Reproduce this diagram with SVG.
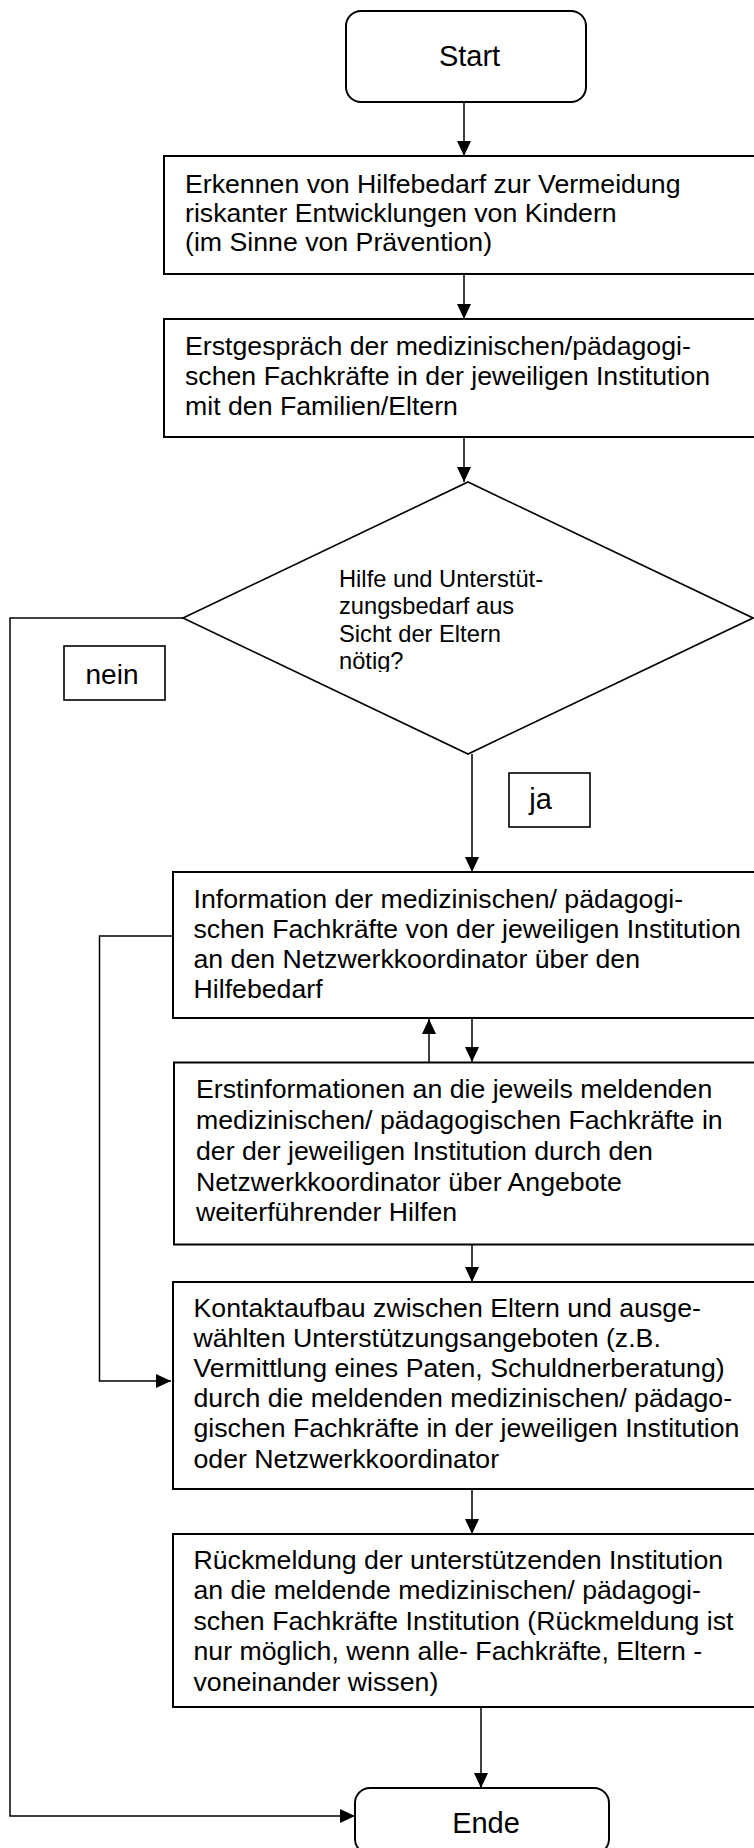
<svg xmlns="http://www.w3.org/2000/svg" width="754" height="1848" viewBox="0 0 754 1848">
<style>
.box{fill:#fff;stroke:#000;stroke-width:2}
.lbl{fill:#fff;stroke:#000;stroke-width:1.6}
.t{font-family:"Liberation Sans",Arial,sans-serif;font-size:26.7px;fill:#000}
.dt{font-family:"Liberation Sans",Arial,sans-serif;font-size:23.7px;fill:#000}
.big{font-family:"Liberation Sans",Arial,sans-serif;font-size:29px;fill:#000}
.c{fill:none;stroke:#000;stroke-width:1.5}
</style>
<defs>
<marker id="ah" markerUnits="userSpaceOnUse" markerWidth="16" markerHeight="15" refX="15" refY="7" orient="auto">
<path d="M0,0 L15,7 L0,14 z" fill="#000"/>
</marker>
<clipPath id="dclip"><rect x="300" y="560" width="300" height="112"/></clipPath>
</defs>

<g id="connectors">
<line class="c" x1="464" y1="102" x2="464" y2="156" marker-end="url(#ah)"/>
<line class="c" x1="464" y1="274" x2="464" y2="319" marker-end="url(#ah)"/>
<line class="c" x1="464" y1="437" x2="464" y2="482" marker-end="url(#ah)"/>
<polyline class="c" points="183,618 10,618 10,1816 355,1816" marker-end="url(#ah)"/>
<line class="c" x1="472" y1="754" x2="472" y2="872" marker-end="url(#ah)"/>
<line class="c" x1="472" y1="1018" x2="472" y2="1062" marker-end="url(#ah)"/>
<line class="c" x1="429" y1="1062" x2="429" y2="1019" marker-end="url(#ah)"/>
<polyline class="c" points="173,936 99.5,936 99.5,1381 171,1381" marker-end="url(#ah)"/>
<line class="c" x1="472" y1="1244" x2="472" y2="1282" marker-end="url(#ah)"/>
<line class="c" x1="472" y1="1489" x2="472" y2="1534" marker-end="url(#ah)"/>
<line class="c" x1="481" y1="1707" x2="481" y2="1788" marker-end="url(#ah)"/>
</g>

<g id="start">
<rect class="box" x="346" y="11" width="240" height="91" rx="15"/>
<text class="big" x="469.5" y="66" text-anchor="middle">Start</text>
</g>

<g id="erkennen">
<rect class="box" x="164" y="156" width="600" height="118"/>
<text class="t" x="185" y="193">Erkennen von Hilfebedarf zur Vermeidung</text>
<text class="t" x="185" y="222">riskanter Entwicklungen von Kindern</text>
<text class="t" x="185" y="251">(im Sinne von Prävention)</text>
</g>

<g id="erstgespraech">
<rect class="box" x="164" y="319" width="600" height="118"/>
<text class="t" x="185" y="355">Erstgespräch der medizinischen/pädagogi-</text>
<text class="t" x="185" y="385">schen Fachkräfte in der jeweiligen Institution</text>
<text class="t" x="185" y="415">mit den Familien/Eltern</text>
</g>

<g id="decision">
<polygon points="468,482 753,618 468,754 183,618" fill="#fff" stroke="#000" stroke-width="1.6"/>
<g clip-path="url(#dclip)">
<text class="dt" x="339" y="587">Hilfe und Unterstüt-</text>
<text class="dt" x="339" y="614">zungsbedarf aus</text>
<text class="dt" x="339" y="642">Sicht der Eltern</text>
<text class="dt" x="339" y="669">nötig?</text>
</g>
</g>

<g id="nein">
<rect class="lbl" x="64" y="646" width="101" height="54"/>
<text class="big" x="112" y="684" text-anchor="middle" style="font-size:28px">nein</text>
</g>

<g id="ja">
<rect class="lbl" x="509" y="773" width="81" height="54"/>
<text class="big" x="540.5" y="809" text-anchor="middle">ja</text>
</g>

<g id="information">
<rect class="box" x="173" y="872" width="600" height="146"/>
<text class="t" x="193.5" y="908">Information der medizinischen/ pädagogi-</text>
<text class="t" x="193.5" y="938">schen Fachkräfte von der jeweiligen Institution</text>
<text class="t" x="193.5" y="968">an den Netzwerkkoordinator über den</text>
<text class="t" x="193.5" y="998">Hilfebedarf</text>
</g>

<g id="erstinformationen">
<rect class="box" x="174" y="1062.5" width="600" height="182"/>
<text class="t" x="196" y="1098">Erstinformationen an die jeweils meldenden</text>
<text class="t" x="196" y="1129">medizinischen/ pädagogischen Fachkräfte in</text>
<text class="t" x="196" y="1160">der der jeweiligen Institution durch den</text>
<text class="t" x="196" y="1191">Netzwerkkoordinator über Angebote</text>
<text class="t" x="196" y="1221">weiterführender Hilfen</text>
</g>

<g id="kontaktaufbau">
<rect class="box" x="173" y="1282" width="600" height="207"/>
<text class="t" x="193.5" y="1317">Kontaktaufbau zwischen Eltern und ausge-</text>
<text class="t" x="193.5" y="1347">wählten Unterstützungsangeboten (z.B.</text>
<text class="t" x="193.5" y="1377">Vermittlung eines Paten, Schuldnerberatung)</text>
<text class="t" x="193.5" y="1407">durch die meldenden medizinischen/ pädago-</text>
<text class="t" x="193.5" y="1437">gischen Fachkräfte in der jeweiligen Institution</text>
<text class="t" x="193.5" y="1468">oder Netzwerkkoordinator</text>
</g>

<g id="rueckmeldung">
<rect class="box" x="173" y="1534" width="600" height="173"/>
<text class="t" x="193.5" y="1569">Rückmeldung der unterstützenden Institution</text>
<text class="t" x="193.5" y="1599">an die meldende medizinischen/ pädagogi-</text>
<text class="t" x="193.5" y="1630">schen Fachkräfte Institution (Rückmeldung ist</text>
<text class="t" x="193.5" y="1660">nur möglich, wenn alle- Fachkräfte, Eltern -</text>
<text class="t" x="193.5" y="1691">voneinander wissen)</text>
</g>

<g id="ende">
<rect class="box" x="355" y="1788" width="254" height="66" rx="15"/>
<text class="big" x="486" y="1833" text-anchor="middle">Ende</text>
</g>
</svg>
